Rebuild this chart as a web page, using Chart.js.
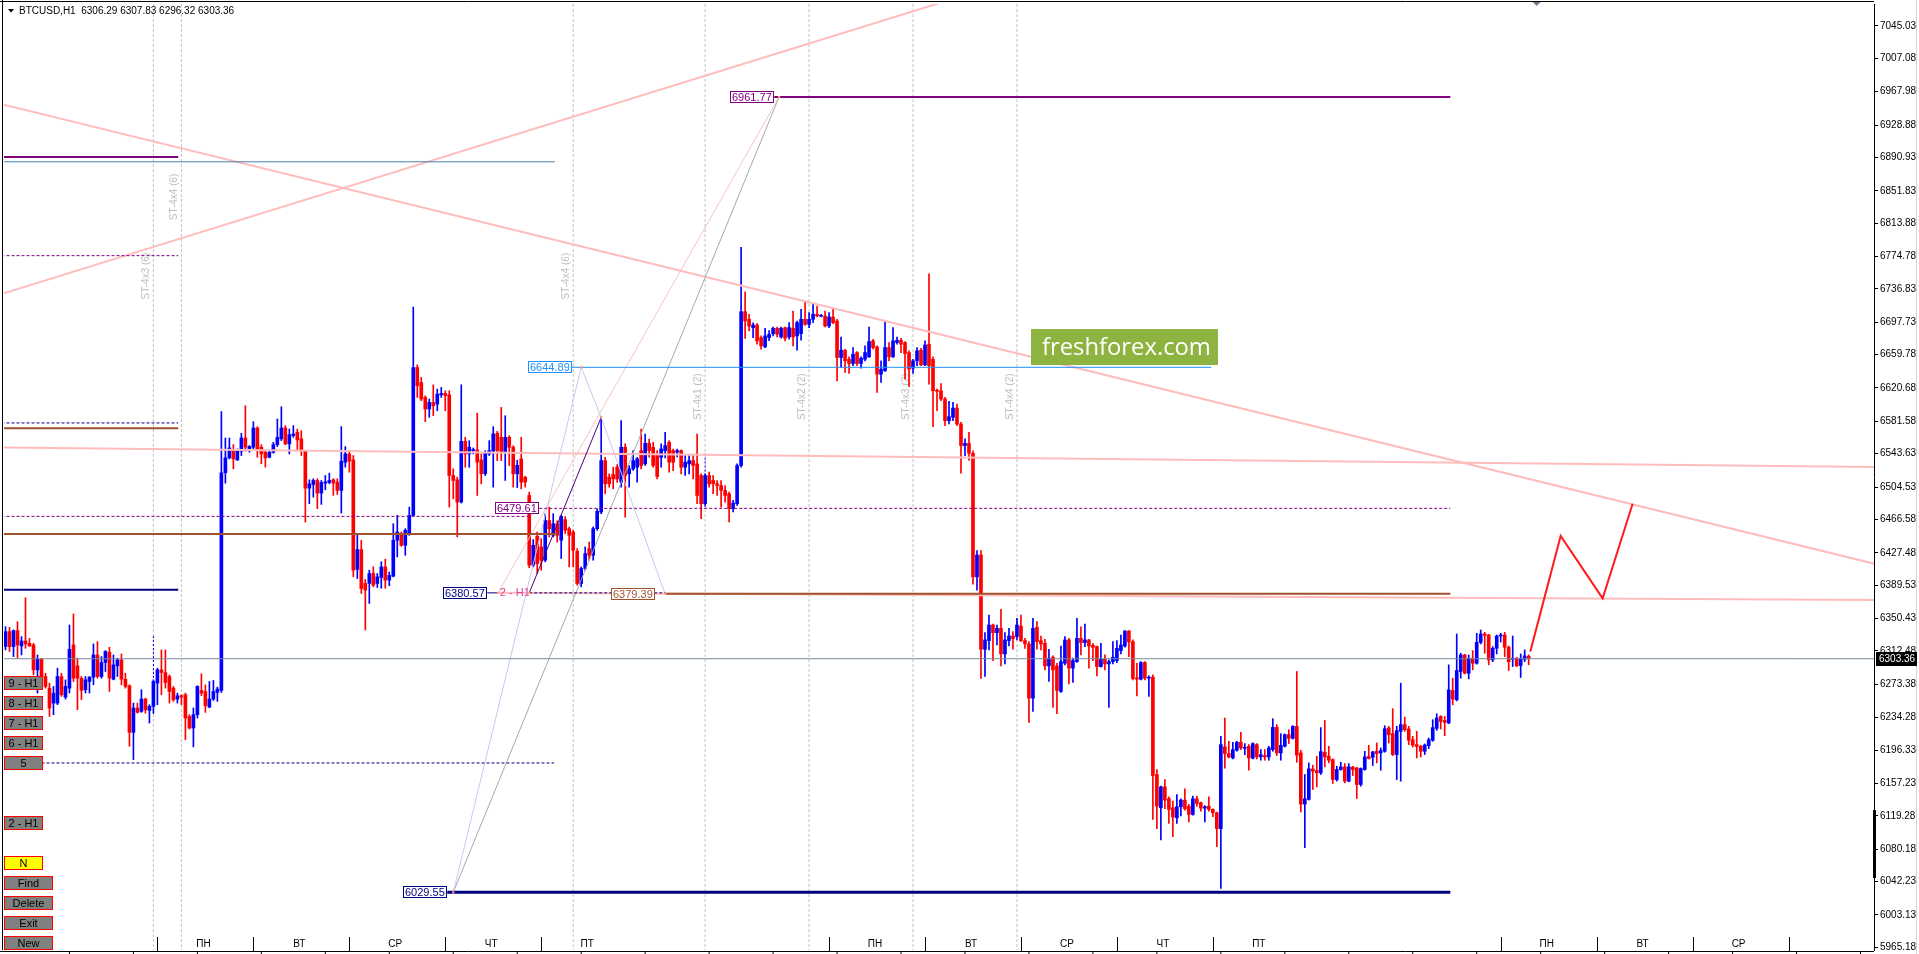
<!DOCTYPE html>
<html>
<head>
<meta charset="utf-8">
<title>BTCUSD,H1</title>
<script src="https://cdn.jsdelivr.net/npm/chart.js@4.4.1/dist/chart.umd.min.js"></script>
<style>
  html, body { margin: 0; padding: 0; background: #fff; overflow: hidden; }
  #wrap { position: relative; width: 1919px; height: 954px; }
</style>
</head>
<body>
<div id="wrap"><canvas id="chart"></canvas></div>
<script>
const ctx = document.getElementById('chart');

// hourly candles, bar 0 .. 381
const opens = [
  6317.6, 6335.1, 6317.6, 6336.3, 6318.4, 6324.2, 6321.5, 6319.5, 6290.3, 6302.8,
  6282.5, 6268.9, 6251.4, 6251.4, 6282.5, 6258.4, 6268.9, 6319.5, 6295.0, 6280.6,
  6267.0, 6276.7, 6281.8, 6307.8, 6282.5, 6298.9, 6311.0, 6279.4, 6295.0, 6302.0,
  6279.4, 6271.7, 6217.1, 6245.6, 6241.7, 6256.1, 6242.8, 6247.5, 6274.8, 6290.3,
  6287.2, 6282.5, 6268.9, 6256.1, 6260.0, 6261.1, 6235.8, 6222.2, 6237.8, 6266.2,
  6265.0, 6246.7, 6256.1, 6263.8, 6266.2, 6521.3, 6538.8, 6547.3, 6536.4, 6546.6,
  6562.1, 6549.3, 6551.2, 6573.8, 6551.2, 6545.4, 6539.5, 6545.4, 6554.3, 6561.0,
  6573.8, 6555.1, 6564.9, 6568.8, 6561.0, 6546.6, 6503.3, 6507.6, 6512.3, 6497.5,
  6509.2, 6510.0, 6513.1, 6510.4, 6500.6, 6533.7, 6543.4, 6536.4, 6408.0, 6431.3,
  6391.6, 6391.6, 6403.3, 6391.6, 6398.6, 6411.0, 6395.5, 6400.1, 6442.2, 6450.0,
  6436.3, 6450.0, 6471.4, 6644.7, 6627.1, 6609.6, 6596.0, 6603.8, 6601.8, 6612.7,
  6614.3, 6612.7, 6518.1, 6513.1, 6487.0, 6558.2, 6543.4, 6547.3, 6548.1, 6536.4,
  6520.1, 6543.4, 6546.5, 6567.6, 6562.9, 6545.4, 6562.9, 6551.2, 6520.1, 6537.6,
  6516.2, 6494.7, 6413.0, 6446.9, 6434.4, 6418.8, 6465.4, 6448.0, 6461.6, 6442.2,
  6466.3, 6455.8, 6451.9, 6429.3, 6391.6, 6409.1, 6432.4, 6424.6, 6455.8, 6475.3,
  6535.6, 6516.2, 6519.3, 6528.0, 6510.3, 6551.2, 6520.1, 6525.9, 6527.8, 6547.3,
  6531.7, 6555.9, 6551.2, 6541.5, 6539.5, 6547.3, 6557.0, 6547.3, 6545.4, 6547.3,
  6527.8, 6531.7, 6535.6, 6531.7, 6518.1, 6485.0, 6518.1, 6512.3, 6508.4, 6506.4,
  6500.6, 6496.7, 6479.2, 6485.0, 6529.8, 6710.1, 6701.1, 6691.4, 6694.5, 6679.7,
  6668.8, 6679.7, 6684.4, 6690.7, 6680.5, 6691.4, 6680.5, 6690.7, 6681.7, 6684.4,
  6701.2, 6695.3, 6701.2, 6707.0, 6704.7, 6705.1, 6693.4, 6703.9, 6699.2, 6656.4,
  6665.0, 6654.4, 6649.4, 6662.2, 6649.4, 6654.4, 6657.2, 6675.9, 6668.9, 6636.9,
  6640.8, 6668.1, 6657.2, 6673.9, 6676.6, 6673.9, 6662.2, 6643.9, 6652.5, 6665.0,
  6647.8, 6672.0, 6654.4, 6618.2, 6617.5, 6607.7, 6582.4, 6586.3, 6597.2, 6578.5,
  6553.2, 6555.9, 6544.2, 6399.3, 6425.0, 6314.5, 6324.6, 6342.9, 6333.9, 6339.0,
  6309.0, 6324.6, 6330.0, 6329.3, 6341.7, 6324.6, 6320.7, 6257.2, 6340.2, 6324.6,
  6321.5, 6295.0, 6305.1, 6295.0, 6265.0, 6298.1, 6325.4, 6292.3, 6300.0, 6327.3,
  6322.3, 6325.4, 6319.1, 6317.6, 6294.2, 6302.8, 6297.3, 6300.0, 6301.2, 6312.9,
  6318.3, 6335.9, 6323.4, 6281.0, 6279.4, 6298.9, 6280.6, 6281.8, 6167.7, 6128.7,
  6153.2, 6139.2, 6128.7, 6117.0, 6129.9, 6137.7, 6130.6, 6120.9, 6139.2, 6134.6,
  6128.3, 6130.6, 6126.8, 6122.9, 6104.2, 6200.0, 6192.2, 6187.1, 6196.1, 6205.4,
  6198.4, 6200.8, 6186.7, 6202.7, 6188.3, 6189.9, 6188.3, 6196.9, 6222.9, 6193.0,
  6200.8, 6214.4, 6210.1, 6224.1, 6193.0, 6133.0, 6138.5, 6174.3, 6172.4, 6169.6,
  6193.8, 6189.1, 6185.2, 6161.8, 6173.5, 6176.6, 6159.9, 6176.2, 6175.4, 6156.0,
  6173.5, 6188.7, 6187.9, 6194.9, 6193.0, 6194.9, 6222.2, 6215.6, 6191.0, 6218.3,
  6226.1, 6221.0, 6208.5, 6202.7, 6200.8, 6194.9, 6201.5, 6207.8, 6221.8, 6235.8,
  6231.1, 6228.0, 6266.2, 6255.3, 6288.4, 6307.8, 6286.4, 6303.9, 6298.1, 6322.6,
  6332.4, 6331.2, 6302.0, 6315.6, 6330.0, 6331.2, 6316.8, 6302.8, 6303.9, 6295.4,
  6302.8, 6306.29
];
const highs = [
  6341.0, 6340.2, 6337.1, 6346.8, 6329.3, 6374.8, 6327.3, 6321.5, 6307.8, 6304.0,
  6286.4, 6274.8, 6270.9, 6292.3, 6286.4, 6278.6, 6342.9, 6355.8, 6304.0, 6282.5,
  6282.5, 6282.5, 6320.7, 6323.4, 6305.9, 6312.9, 6316.8, 6307.8, 6304.0, 6309.0,
  6286.4, 6272.8, 6251.4, 6251.4, 6267.0, 6257.2, 6249.5, 6278.6, 6292.3, 6313.7,
  6313.7, 6284.5, 6270.9, 6263.1, 6261.1, 6263.1, 6237.8, 6245.6, 6271.7, 6285.6,
  6272.8, 6276.7, 6277.9, 6270.1, 6592.9, 6562.1, 6562.1, 6554.3, 6549.3, 6567.6,
  6599.9, 6553.2, 6581.2, 6575.4, 6554.3, 6547.3, 6547.3, 6557.1, 6584.3, 6598.7,
  6576.6, 6572.6, 6576.6, 6572.6, 6570.7, 6547.3, 6513.1, 6514.3, 6514.3, 6512.3,
  6518.1, 6520.9, 6514.3, 6514.3, 6575.4, 6552.0, 6546.2, 6541.5, 6448.0, 6442.2,
  6396.3, 6407.2, 6411.1, 6403.3, 6417.0, 6420.0, 6405.0, 6461.6, 6471.4, 6451.9,
  6455.8, 6481.1, 6715.5, 6647.8, 6633.0, 6611.6, 6607.7, 6624.4, 6619.4, 6621.3,
  6617.4, 6617.4, 6525.9, 6516.2, 6624.4, 6562.9, 6559.0, 6550.4, 6591.3, 6543.4,
  6547.3, 6559.0, 6575.3, 6569.9, 6597.9, 6588.2, 6564.8, 6553.0, 6536.0, 6562.9,
  6517.0, 6498.6, 6443.0, 6451.9, 6444.1, 6473.3, 6481.1, 6473.3, 6465.0, 6471.4,
  6470.0, 6457.8, 6453.9, 6432.4, 6411.0, 6434.4, 6440.2, 6457.8, 6478.8, 6587.0,
  6539.5, 6520.1, 6527.8, 6531.0, 6582.4, 6555.1, 6529.8, 6547.3, 6539.5, 6572.6,
  6566.8, 6560.9, 6557.0, 6547.3, 6555.1, 6568.7, 6559.0, 6549.2, 6549.0, 6548.1,
  6541.5, 6541.5, 6541.5, 6566.8, 6520.1, 6520.0, 6522.0, 6518.1, 6512.3, 6512.3,
  6506.4, 6498.6, 6488.9, 6531.7, 6785.6, 6733.4, 6707.0, 6697.2, 6696.1, 6681.7,
  6690.6, 6688.0, 6692.2, 6692.2, 6692.2, 6692.2, 6697.3, 6710.9, 6699.2, 6712.9,
  6722.6, 6709.0, 6718.7, 6716.7, 6707.0, 6710.9, 6709.0, 6714.8, 6701.2, 6680.5,
  6666.1, 6657.2, 6668.1, 6663.4, 6657.2, 6670.0, 6692.2, 6677.8, 6670.0, 6652.5,
  6699.2, 6673.9, 6691.4, 6680.5, 6679.0, 6675.1, 6664.2, 6654.4, 6668.1, 6667.3,
  6675.9, 6754.5, 6657.2, 6619.4, 6626.0, 6609.7, 6605.0, 6603.8, 6601.9, 6580.5,
  6561.0, 6568.8, 6547.0, 6430.0, 6430.0, 6333.9, 6354.6, 6344.1, 6342.9, 6361.2,
  6333.9, 6339.0, 6335.1, 6350.7, 6354.6, 6327.3, 6323.4, 6350.7, 6346.8, 6330.0,
  6326.1, 6314.5, 6306.7, 6298.1, 6318.3, 6329.3, 6327.3, 6304.0, 6350.7, 6340.9,
  6344.1, 6326.1, 6321.5, 6318.3, 6321.5, 6307.8, 6302.0, 6323.4, 6324.6, 6331.2,
  6336.3, 6336.3, 6325.4, 6298.1, 6300.0, 6300.0, 6283.3, 6284.5, 6173.5, 6154.0,
  6161.8, 6141.6, 6136.5, 6144.3, 6139.2, 6150.9, 6132.6, 6142.3, 6142.3, 6135.3,
  6131.4, 6141.6, 6127.5, 6123.7, 6212.4, 6233.9, 6206.6, 6205.4, 6206.6, 6217.1,
  6203.9, 6202.7, 6204.7, 6203.9, 6196.9, 6196.9, 6200.8, 6233.1, 6226.1, 6215.6,
  6215.2, 6220.2, 6224.9, 6288.4, 6196.1, 6167.7, 6181.3, 6178.6, 6189.1, 6222.6,
  6231.1, 6200.8, 6186.0, 6177.4, 6182.1, 6180.5, 6180.5, 6177.4, 6176.0, 6175.4,
  6194.9, 6201.9, 6194.9, 6204.7, 6198.8, 6224.9, 6224.1, 6244.8, 6224.1, 6274.7,
  6235.0, 6224.1, 6212.4, 6218.3, 6201.9, 6203.5, 6210.5, 6231.9, 6238.9, 6236.6,
  6235.8, 6296.2, 6280.6, 6332.4, 6309.8, 6308.5, 6307.8, 6312.9, 6333.2, 6337.1,
  6334.3, 6332.0, 6317.6, 6331.2, 6333.2, 6334.3, 6318.4, 6330.0, 6305.1, 6309.0,
  6313.7, 6307.83
];
const lows = [
  6313.7, 6311.8, 6305.9, 6304.0, 6307.8, 6315.6, 6317.6, 6284.5, 6263.1, 6278.6,
  6268.9, 6235.8, 6237.8, 6249.5, 6259.2, 6256.1, 6263.1, 6276.7, 6243.6, 6255.3,
  6263.1, 6263.1, 6272.8, 6280.6, 6280.6, 6288.4, 6265.0, 6278.6, 6282.5, 6272.8,
  6268.9, 6200.8, 6185.2, 6239.7, 6240.5, 6239.7, 6228.0, 6239.7, 6249.5, 6261.1,
  6268.9, 6251.4, 6253.3, 6251.4, 6249.5, 6208.6, 6221.0, 6200.0, 6233.9, 6260.0,
  6240.5, 6245.9, 6254.5, 6253.3, 6264.0, 6509.2, 6537.6, 6525.9, 6535.7, 6541.5,
  6546.6, 6545.4, 6549.3, 6539.5, 6531.8, 6527.9, 6538.8, 6544.2, 6552.0, 6559.0,
  6554.3, 6543.4, 6562.9, 6547.3, 6541.5, 6463.6, 6485.0, 6492.8, 6479.2, 6484.3,
  6501.4, 6508.4, 6494.8, 6495.9, 6474.1, 6527.9, 6522.0, 6399.4, 6397.4, 6379.9,
  6337.1, 6368.2, 6387.7, 6386.9, 6386.0, 6386.0, 6389.0, 6399.3, 6422.7, 6435.2,
  6424.6, 6448.0, 6470.2, 6609.6, 6605.7, 6581.2, 6586.3, 6588.2, 6594.0, 6609.6,
  6594.0, 6481.1, 6490.8, 6446.1, 6485.8, 6527.8, 6527.8, 6543.4, 6494.7, 6508.4,
  6518.1, 6541.5, 6504.5, 6535.6, 6535.6, 6512.3, 6529.8, 6504.5, 6504.0, 6502.5,
  6504.5, 6410.0, 6411.0, 6403.2, 6407.1, 6416.9, 6446.1, 6446.1, 6440.0, 6420.8,
  6450.0, 6411.0, 6411.0, 6389.6, 6387.7, 6407.1, 6418.8, 6418.8, 6453.9, 6473.3,
  6496.7, 6504.5, 6502.5, 6510.0, 6504.5, 6469.4, 6504.5, 6524.0, 6510.3, 6525.9,
  6529.8, 6539.5, 6527.8, 6514.2, 6527.8, 6538.7, 6522.0, 6523.9, 6540.0, 6520.1,
  6518.1, 6520.1, 6514.2, 6485.0, 6467.5, 6483.0, 6504.5, 6496.7, 6494.7, 6481.1,
  6486.9, 6463.6, 6475.3, 6483.1, 6527.8, 6678.9, 6687.5, 6679.7, 6671.9, 6666.1,
  6668.0, 6676.0, 6681.7, 6680.5, 6679.0, 6675.9, 6677.8, 6670.0, 6665.0, 6676.6,
  6694.0, 6691.4, 6697.3, 6703.9, 6703.9, 6692.2, 6691.4, 6696.1, 6629.1, 6644.7,
  6638.9, 6637.7, 6646.7, 6646.7, 6643.9, 6652.5, 6656.4, 6666.1, 6615.5, 6627.2,
  6640.0, 6652.5, 6656.4, 6672.0, 6662.2, 6631.1, 6622.1, 6637.7, 6646.7, 6646.7,
  6646.7, 6625.2, 6575.4, 6594.1, 6605.8, 6576.6, 6578.5, 6582.4, 6576.6, 6520.9,
  6541.5, 6535.7, 6390.8, 6383.8, 6280.2, 6282.5, 6313.7, 6301.2, 6319.5, 6295.0,
  6297.3, 6318.3, 6314.5, 6325.4, 6323.4, 6315.6, 6228.8, 6241.6, 6314.5, 6313.7,
  6290.3, 6276.7, 6246.3, 6238.9, 6263.8, 6296.2, 6273.9, 6275.5, 6299.0, 6307.8,
  6317.6, 6292.3, 6301.2, 6283.3, 6293.4, 6290.3, 6246.3, 6297.3, 6298.9, 6309.0,
  6316.8, 6305.9, 6278.6, 6259.9, 6278.6, 6278.6, 6259.2, 6115.1, 6104.2, 6090.9,
  6127.5, 6110.4, 6094.8, 6110.4, 6119.0, 6126.0, 6112.0, 6120.0, 6130.6, 6124.8,
  6112.0, 6124.8, 6118.2, 6083.2, 6034.1, 6175.1, 6187.1, 6185.9, 6194.9, 6196.9,
  6191.0, 6172.7, 6185.9, 6185.9, 6184.4, 6184.4, 6184.4, 6194.9, 6189.9, 6184.4,
  6199.9, 6203.9, 6209.3, 6182.1, 6123.7, 6082.0, 6137.7, 6150.1, 6153.2, 6167.7,
  6176.6, 6181.3, 6157.1, 6159.9, 6172.7, 6157.9, 6159.1, 6166.5, 6139.6, 6154.0,
  6172.7, 6185.9, 6178.2, 6181.3, 6172.7, 6193.8, 6204.7, 6189.9, 6161.8, 6159.9,
  6218.3, 6202.7, 6199.9, 6187.1, 6188.3, 6191.0, 6198.0, 6206.6, 6219.4, 6221.0,
  6213.2, 6227.2, 6249.4, 6254.0, 6280.6, 6285.7, 6279.8, 6290.3, 6297.0, 6320.7,
  6309.8, 6296.2, 6300.0, 6309.0, 6323.0, 6305.9, 6289.5, 6294.2, 6294.2, 6281.4,
  6300.0, 6296.32
];
const closes = [
  6335.1, 6317.6, 6336.3, 6319.5, 6324.2, 6320.7, 6318.4, 6290.3, 6302.8, 6282.5,
  6270.9, 6245.6, 6263.1, 6282.5, 6261.1, 6270.9, 6314.5, 6280.6, 6280.6, 6266.2,
  6278.6, 6281.8, 6307.8, 6282.5, 6298.9, 6311.8, 6280.6, 6296.2, 6302.0, 6279.4,
  6270.9, 6217.1, 6245.6, 6240.5, 6256.1, 6243.6, 6247.5, 6276.7, 6290.3, 6287.2,
  6275.5, 6265.0, 6255.3, 6260.0, 6258.4, 6233.9, 6222.2, 6237.8, 6270.9, 6263.1,
  6248.3, 6256.1, 6265.0, 6267.8, 6521.3, 6538.8, 6550.5, 6537.6, 6546.6, 6562.1,
  6551.2, 6552.0, 6573.8, 6547.3, 6543.4, 6538.8, 6545.4, 6554.3, 6562.9, 6573.8,
  6555.1, 6566.0, 6566.8, 6559.8, 6546.6, 6503.3, 6508.4, 6512.3, 6497.5, 6510.0,
  6510.7, 6512.3, 6509.2, 6500.6, 6534.9, 6543.4, 6534.9, 6407.2, 6431.3, 6385.7,
  6383.8, 6403.3, 6389.6, 6399.4, 6411.0, 6395.5, 6401.0, 6442.2, 6451.9, 6436.3,
  6453.9, 6471.4, 6644.7, 6623.3, 6607.7, 6596.0, 6603.8, 6599.9, 6613.5, 6614.3,
  6611.6, 6518.1, 6512.3, 6487.0, 6558.2, 6543.4, 6551.2, 6548.1, 6533.7, 6520.1,
  6544.2, 6547.3, 6566.8, 6547.3, 6545.4, 6562.9, 6551.2, 6520.1, 6530.0, 6510.3,
  6510.3, 6413.0, 6436.3, 6414.9, 6418.8, 6465.4, 6455.8, 6461.6, 6448.0, 6470.2,
  6453.9, 6448.0, 6430.5, 6391.6, 6409.1, 6426.6, 6424.6, 6455.8, 6476.1, 6535.6,
  6508.4, 6508.4, 6514.2, 6514.0, 6551.2, 6518.1, 6525.9, 6535.6, 6537.6, 6529.8,
  6555.9, 6547.3, 6529.8, 6516.9, 6549.3, 6553.2, 6533.7, 6533.7, 6547.3, 6527.8,
  6533.7, 6535.6, 6529.8, 6494.7, 6485.0, 6518.1, 6508.4, 6508.4, 6506.4, 6500.6,
  6494.7, 6479.2, 6485.8, 6529.8, 6710.1, 6699.2, 6693.3, 6694.5, 6675.8, 6670.0,
  6681.7, 6683.6, 6690.7, 6683.6, 6690.7, 6679.0, 6691.4, 6680.5, 6697.3, 6701.2,
  6695.3, 6701.2, 6707.0, 6705.1, 6705.8, 6693.4, 6703.9, 6697.3, 6656.4, 6665.0,
  6652.5, 6649.4, 6660.3, 6649.4, 6655.6, 6662.2, 6675.1, 6668.1, 6636.9, 6642.8,
  6668.1, 6657.2, 6675.9, 6676.6, 6672.0, 6661.1, 6642.8, 6652.5, 6664.2, 6647.8,
  6671.2, 6646.7, 6617.5, 6616.7, 6607.7, 6582.4, 6587.1, 6597.2, 6578.5, 6553.2,
  6555.9, 6544.2, 6399.3, 6425.0, 6314.5, 6325.4, 6342.9, 6333.9, 6339.0, 6309.0,
  6325.4, 6330.0, 6326.9, 6342.9, 6324.6, 6320.7, 6257.2, 6339.0, 6323.4, 6320.7,
  6295.0, 6304.0, 6290.3, 6266.2, 6300.0, 6325.4, 6292.3, 6301.2, 6327.3, 6322.3,
  6325.4, 6318.3, 6316.8, 6294.2, 6302.8, 6297.3, 6300.0, 6305.1, 6315.6, 6319.5,
  6335.9, 6323.0, 6280.2, 6279.4, 6298.9, 6280.6, 6281.8, 6166.5, 6130.6, 6153.2,
  6137.7, 6126.8, 6117.8, 6129.9, 6137.7, 6127.5, 6120.9, 6139.2, 6133.8, 6128.3,
  6129.9, 6126.8, 6122.9, 6104.2, 6202.7, 6192.2, 6188.3, 6196.9, 6205.4, 6198.8,
  6199.6, 6187.1, 6203.9, 6188.3, 6191.0, 6188.3, 6198.8, 6222.9, 6193.0, 6201.9,
  6214.4, 6210.1, 6224.1, 6190.3, 6133.0, 6139.2, 6174.3, 6171.6, 6169.6, 6194.5,
  6188.3, 6184.4, 6161.8, 6173.5, 6176.6, 6159.9, 6176.6, 6173.5, 6156.0, 6174.7,
  6188.3, 6186.3, 6194.1, 6192.2, 6195.7, 6221.4, 6214.4, 6191.0, 6219.1, 6226.1,
  6220.2, 6207.8, 6201.9, 6200.4, 6194.9, 6202.3, 6208.5, 6222.6, 6233.9, 6229.9,
  6228.8, 6266.9, 6256.0, 6289.5, 6307.8, 6286.4, 6303.9, 6298.1, 6322.6, 6332.4,
  6330.8, 6302.0, 6315.6, 6330.0, 6331.2, 6316.8, 6300.0, 6303.9, 6295.0, 6303.9,
  6306.7, 6303.36
];

// price scale labels (right axis)
const yTicks = [7045.03, 7007.08, 6967.98, 6928.88, 6890.93, 6851.83, 6813.88, 6774.78, 6736.83,
  6697.73, 6659.78, 6620.68, 6581.58, 6543.63, 6504.53, 6466.58, 6427.48, 6389.53, 6350.43,
  6312.48, 6273.38, 6234.28, 6196.33, 6157.23, 6119.28, 6080.18, 6042.23, 6003.13, 5965.18];

// time axis: bar where each day starts, and its name
const daySeparators = [38, 62, 86, 110, 134, 206, 230, 254, 278, 302, 374, 398, 422, 446];
const dayNames = ['ПН', 'ВТ', 'СР', 'ЧТ', 'ПТ', 'ПН', 'ВТ', 'СР', 'ЧТ', 'ПТ', 'ПН', 'ВТ', 'СР'];

// vertical ST markers: bar, caption, price where caption sits
const stBars = [37, 44, 142, 175, 201, 227, 253];
const stNames = ['ST-4x3 (6)', 'ST-4x4 (6)', 'ST-4x4 (6)', 'ST-4x1 (2)', 'ST-4x2 (2)', 'ST-4x3 (2)', 'ST-4x4 (2)'];
const stNamePrices = [6751.8, 6844.6, 6751.8, 6610.4, 6610.4, 6610.4, 6610.4];

// horizontal levels: [price, first bar, last bar]
const lvPurpleTop = [6891.5, -1, 43.2];
const lvSteel = [6885.8, -1, 137.4];
const lvPurpleDash = [6775.8, -1, 43.2];
const lvNavyDashTop = [6579.7, -1, 43.2];
const lvBrownTop = [6573.4, -1, 43.2];
const lvPurpleDashMid = [6470.2, -1, 131];
const lvBrownMid = [6449.6, -1, 138];
const lvNavyLeft = [6384.1, -1, 43.2];
const lvNavyDashLow = [6181.2, -1, 137.2];
const lvHigh = [6961.77, 192.3, 361.4];
const lvBlue = [6644.89, 141.6, 301.6];
const lvMid = [6479.61, 133.5, 361.4];
const lvStart = [6380.57, 131, 165];
const lvStartTick = [6380.57, 120.5, 123.2];
const lvEnd = [6379.39, 165, 361.4];
const lvLow = [6029.55, 110.5, 361.4];

// trend lines and waves: [bar, price] points
const trendUp = [[-1, 6730.8], [240, 7081.1]];
const trendDown = [[-1, 6953.3], [468, 6414.1]];
const channelTop = [[-1, 6551.1], [468, 6528.0]];
const channelLow = [[123.2, 6380.6], [468, 6372.1]];
const waveDark = [[131, 6380.6], [149, 6586.2]];
const waveLight = [[112, 6029.55], [144, 6644.89], [149, 6586.2], [165, 6379.39]];
const waveGray = [[112, 6029.55], [193.5, 6961.77]];
const wavePink = [[123.2, 6380.57], [193.5, 6961.77]];
const forecast = [[381.4, 6311.7], [389, 6447.2], [399.5, 6374.1], [407, 6485.0]];
const anchors = [[112, 6029.55], [123.2, 6380.57], [131, 6380.57], [144, 6644.89], [149, 6586.2], [165, 6379.39], [193.5, 6961.77]];
const blueMarks = [[37, 6330.0, 6237.7], [175, 6543.8, 6480.7], [253, 6351.0, 6327.7]];

// price tags: value and bar at the tag's right edge
const tagPrices = [6961.77, 6644.89, 6479.61, 6380.57, 6379.39, 6029.55];
const tagBars = [192.3, 141.6, 133.5, 120.5, 162.5, 110.5];
const tagColors = ['#800080', '#1e90ff', '#800080', '#000080', '#a0522d', '#000080'];

const lastClose = closes[closes.length - 1];
const FONT = '"Liberation Sans", Arial, sans-serif';
Chart.defaults.font.family = FONT;

function path(pts, color, width, dash) {
  return {
    type: 'line', data: pts.map(p => ({x: p[0], y: p[1]})), borderColor: color,
    borderWidth: width, borderDash: dash || [], pointRadius: 0, fill: false, tension: 0, order: 1
  };
}
function level(lv, color, width, dash) {
  return path([[lv[1], lv[0]], [lv[2], lv[0]]], color, width, dash);
}

const bars = closes.map((c, i) => i);
const candleColor = c => (c.dataIndex === undefined || closes[c.dataIndex] >= opens[c.dataIndex]) ? '#0000ff' : '#ff0000';

const datasets = [
  path(forecast, '#ff1c1c', 2),
  level([lastClose, -1, 468], '#778899', 1),
  level(lvPurpleTop, '#800080', 2),
  level(lvSteel, '#4682b4', 1),
  level(lvPurpleDash, '#800080', 1, [3, 2]),
  level(lvNavyDashTop, '#000080', 1, [3, 2]),
  level(lvBrownTop, '#a0522d', 2),
  level(lvPurpleDashMid, '#800080', 1, [3, 2]),
  level(lvBrownMid, '#a0522d', 2),
  level(lvNavyLeft, '#000080', 2),
  level(lvNavyDashLow, '#000080', 1, [3, 2]),
  level(lvHigh, '#800080', 2),
  level(lvBlue, '#1e90ff', 1),
  level(lvMid, '#800080', 1, [3, 2]),
  level(lvStart, '#000080', 1, [3, 2]),
  level(lvStartTick, '#000080', 1),
  level(lvEnd, '#a0522d', 2),
  level(lvLow, '#000080', 3),
  path(waveDark, '#4b0082', 1),
  path(waveLight, '#c8c8f0', 1),
  path(waveGray, '#a8a8a8', 1),
  path(wavePink, '#f2c4cc', 1),
  path(trendUp, '#ffbcbc', 2),
  path(trendDown, '#ffbcbc', 2),
  path(channelTop, '#ffbcbc', 2),
  path(channelLow, '#ffbcbc', 2),
  ...blueMarks.map(m => path([[m[0], m[1]], [m[0], m[2]]], '#0000ff', 1, [2, 2])),
  {
    type: 'line', data: anchors.map(p => ({x: p[0], y: p[1]})), showLine: false,
    pointStyle: 'rect', pointRadius: 1.6, pointBackgroundColor: '#ffa07a', pointBorderWidth: 0, order: 0
  },
  {
    type: 'bar', data: bars.map(i => ({x: i, y: [opens[i], closes[i]]})),
    backgroundColor: candleColor, barThickness: 3, minBarLength: 1, grouped: false, borderWidth: 0, order: 10
  },
  {
    type: 'bar', data: bars.map(i => ({x: i, y: [lows[i], highs[i]]})),
    backgroundColor: candleColor, barThickness: 1, minBarLength: 1, grouped: false, borderWidth: 0, order: 11
  }
];

const buttons = [
  ['9 - H1', 4, 676, 39], ['8 - H1', 4, 696, 39], ['7 - H1', 4, 716, 39], ['6 - H1', 4, 736, 39],
  ['5', 4, 756, 39], ['2 - H1', 4, 816, 39], ['N', 4, 856, 39], ['Find', 4, 876, 49],
  ['Delete', 4, 896, 49], ['Exit', 4, 916, 49], ['New', 4, 936, 49]
];

const mt4 = {
  id: 'mt4',
  beforeDatasetsDraw(chart) {
    const {ctx, chartArea: a, scales: {x, y}} = chart;
    ctx.save();
    ctx.strokeStyle = '#c0c0c0';
    ctx.lineWidth = 1;
    ctx.setLineDash([3, 2]);
    stBars.forEach(b => {
      const px = x.getPixelForValue(b);
      ctx.beginPath(); ctx.moveTo(px, a.top); ctx.lineTo(px, a.bottom); ctx.stroke();
    });
    ctx.setLineDash([]);
    ctx.fillStyle = '#bdbdbd';
    ctx.font = '10px ' + FONT;
    ctx.textAlign = 'center';
    ctx.textBaseline = 'middle';
    stNames.forEach((t, k) => {
      ctx.save();
      ctx.translate(x.getPixelForValue(stBars[k]) - 7, y.getPixelForValue(stNamePrices[k]));
      ctx.rotate(-Math.PI / 2);
      ctx.fillText(t, 0, 0);
      ctx.restore();
    });
    ctx.restore();
  },
  afterDatasetsDraw(chart) {
    const {ctx, scales: {x, y}} = chart;
    ctx.save();
    // price tags
    ctx.font = '11px ' + FONT;
    ctx.textBaseline = 'middle';
    ctx.textAlign = 'left';
    tagPrices.forEach((p, k) => {
      const t = p.toFixed(2);
      const w = Math.round(ctx.measureText(t).width) + 4;
      const r = Math.round(x.getPixelForValue(tagBars[k]));
      const cy = Math.round(y.getPixelForValue(p));
      ctx.fillStyle = '#fff';
      ctx.fillRect(r - w, cy - 6, w, 12);
      ctx.strokeStyle = tagColors[k];
      ctx.lineWidth = 1;
      ctx.strokeRect(r - w + 0.5, cy - 5.5, w - 1, 11);
      ctx.fillStyle = tagColors[k];
      ctx.fillText(t, r - w + 2, cy + 0.5);
    });
    // wave label
    ctx.fillStyle = '#e0409a';
    ctx.fillText('2 - H1', x.getPixelForValue(123.4) + 1, y.getPixelForValue(6380.57) + 0.5);
    // watermark
    ctx.fillStyle = '#8db340';
    ctx.fillRect(1031, 329, 187, 36);
    ctx.fillStyle = '#fff';
    ctx.font = '24px "Open Sans", ' + FONT;
    const tw = ctx.measureText('freshforex.com').width;
    ctx.font = (24 * 169 / tw).toFixed(1) + 'px "Open Sans", ' + FONT;
    ctx.textBaseline = 'alphabetic';
    ctx.fillText('freshforex.com', 1042, 355);
    ctx.restore();
  },
  afterDraw(chart) {
    const {ctx, chartArea: a, scales: {x}} = chart;
    ctx.save();
    // frame
    ctx.strokeStyle = '#000';
    ctx.lineWidth = 1;
    ctx.beginPath();
    ctx.moveTo(0, 1.5); ctx.lineTo(a.right, 1.5);
    ctx.moveTo(2.5, 0); ctx.lineTo(2.5, a.bottom);
    ctx.moveTo(0, 951.5); ctx.lineTo(a.right, 951.5);
    ctx.stroke();
    ctx.strokeStyle = '#d4d4d4';
    ctx.beginPath(); ctx.moveTo(1916.5, 0); ctx.lineTo(1916.5, 954); ctx.stroke();
    // time axis
    ctx.strokeStyle = '#000';
    ctx.beginPath();
    daySeparators.forEach(b => {
      const px = Math.round(x.getPixelForValue(b)) + 0.5;
      ctx.moveTo(px, 937); ctx.lineTo(px, 951);
    });
    for (let b = 16; b < 468; b += 16) {
      const px = x.getPixelForValue(b);
      ctx.moveTo(px, 951); ctx.lineTo(px, 954);
    }
    ctx.stroke();
    ctx.fillStyle = '#000';
    ctx.font = '10px ' + FONT;
    ctx.textAlign = 'center';
    ctx.textBaseline = 'middle';
    dayNames.forEach((n, k) => ctx.fillText(n, x.getPixelForValue(daySeparators[k] + 11.5), 944));
    // header
    ctx.textAlign = 'left';
    ctx.beginPath(); ctx.moveTo(8, 9); ctx.lineTo(14, 9); ctx.lineTo(11, 12.5); ctx.closePath(); ctx.fill();
    const n = closes.length - 1;
    ctx.fillText('BTCUSD,H1  ' + opens[n].toFixed(2) + ' ' + highs[n].toFixed(2) + ' ' +
      lows[n].toFixed(2) + ' ' + closes[n].toFixed(2), 19, 11);
    // shift marker
    const sx = x.getPixelForValue(383);
    ctx.fillStyle = '#708090';
    ctx.beginPath(); ctx.moveTo(sx - 4, 2); ctx.lineTo(sx + 4, 2); ctx.lineTo(sx, 6); ctx.closePath(); ctx.fill();
    // buttons
    ctx.font = '11px ' + FONT;
    ctx.textAlign = 'center';
    buttons.forEach(bt => {
      ctx.fillStyle = bt[0] === 'N' ? '#ffff00' : '#808080';
      ctx.fillRect(bt[1], bt[2], bt[3], 14);
      ctx.strokeStyle = '#ff0000';
      ctx.strokeRect(bt[1] + 0.5, bt[2] + 0.5, bt[3] - 1, 13);
      ctx.fillStyle = '#000';
      ctx.fillText(bt[0], bt[1] + bt[3] / 2, bt[2] + 7.5);
    });
    // current price box and scroll mark on the price axis
    const py = Math.round(chart.scales.y.getPixelForValue(lastClose));
    ctx.fillStyle = '#000';
    ctx.fillRect(1876, py - 7, 41, 14);
    ctx.fillRect(1873, 810, 3, 68);
    ctx.fillStyle = '#fff';
    ctx.font = '10px ' + FONT;
    ctx.textAlign = 'left';
    ctx.fillText(lastClose.toFixed(2), 1879, py + 0.5);
    ctx.restore();
  }
};

new Chart(ctx, {
  type: 'bar',
  data: { datasets: datasets },
  options: {
    responsive: true,
    maintainAspectRatio: false,
    animation: false,
    devicePixelRatio: 1,
    layout: { padding: { left: 3, top: 2, right: 0, bottom: 3 } },
    plugins: { legend: { display: false }, tooltip: { enabled: false } },
    scales: {
      x: { type: 'linear', display: false, min: -0.375, max: 467.375, offset: false },
      y: {
        position: 'right',
        min: 5962.0,
        max: 7070.73,
        afterBuildTicks: s => { s.ticks = yTicks.map(v => ({ value: v })); },
        afterFit: s => { s.width = 45; s.paddingTop = 0; s.paddingBottom = 0; },
        ticks: {
          autoSkip: false, color: '#000', padding: 2,
          font: { size: 10 },
          callback: v => Number(v).toFixed(2)
        },
        grid: { drawOnChartArea: false, drawTicks: true, tickLength: 4, tickColor: '#000' },
        border: { display: true, color: '#000' }
      }
    }
  },
  plugins: [mt4]
});
</script>
</body>
</html>
